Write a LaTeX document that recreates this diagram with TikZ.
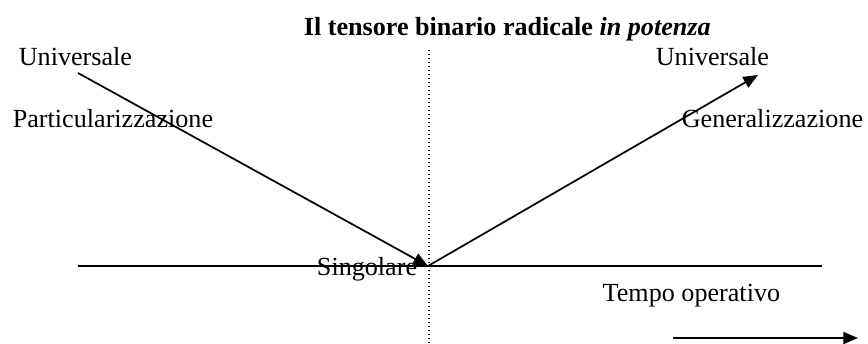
\documentclass[tikz,border=0pt]{standalone}
\usepackage{fontspec}
\setmainfont{Liberation Serif}
\usetikzlibrary{arrows.meta}

\begin{document}
\begin{tikzpicture}[x=0.75pt, y=-0.75pt, line width=1.3pt, >={Triangle[length=11pt,width=9pt]},
        every node/.style={font=\fontsize{19.6}{23}\selectfont, inner sep=0pt}]
        \useasboundingbox (0,0) rectangle (868,343);
        \node[font=\fontsize{19.6}{23}\selectfont\bfseries, anchor=base west] (title) at (303,35) {Il tensore binario radicale \textit{in potenza}};
        
        \node[anchor=base west] (univL) at (18,65) {Universale};
        \node[anchor=base west] (univR) at (655,65) {Universale};
        \node[anchor=base west] (partic) at (12,127) {Particularizzazione};
        \node[anchor=base east] (gener) at (864,127) {Generalizzazione};
        \node[anchor=base east] (sing) at (418,275) {Singolare};
        \node[anchor=base east] (tempo) at (781,301) {Tempo operativo};
        
        \coordinate (o) at (428,266);
        \coordinate (a) at (78,73);
        \coordinate (b) at (758,75);
        \coordinate (h1) at (78,266);
        \coordinate (h2) at (822,266);
        \coordinate (v1) at (429,50);
        \coordinate (v2) at (429,343);
        \coordinate (t1) at (673,338);
        \coordinate (t2) at (858,338);
        
        \draw[dotted, line width=1pt] (v1) -- (v2);
        \draw (h1) -- (h2);
        \draw[->] (a) -- (o);
        \draw[->] (o) -- (b);
        \draw[->] (t1) -- (t2);
    \end{tikzpicture}
\end{document}
